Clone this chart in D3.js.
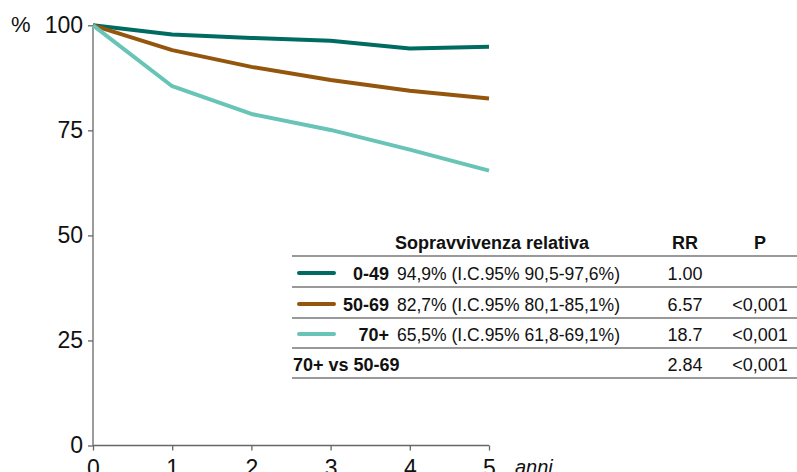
<!DOCTYPE html>
<html><head><meta charset="utf-8">
<script src="https://cdn.jsdelivr.net/npm/d3@7"></script>
<style>
html,body{margin:0;padding:0;background:#fff;}
svg{display:block;}
.ax text{font-family:"Liberation Sans",Arial,sans-serif;}
.tb{font-family:"Liberation Sans Narrow","Arial Narrow","Liberation Sans",sans-serif;}
</style></head>
<body>
<script>
const years = [0, 1, 2, 3, 4, 5];
const seriesNames = ["0-49", "50-69", "70+"];
const s0_49 = [100, 97.8, 97.0, 96.3, 94.5, 94.9];
const s50_69 = [100, 94.1, 90.1, 87.0, 84.4, 82.6];
const s70p = [100, 85.5, 78.9, 75.1, 70.4, 65.4];
const colors = ["#006b61", "#94560c", "#68c4b6"];
const yTicks = [0, 25, 50, 75, 100];
const xTicks = [0, 1, 2, 3, 4, 5];
const survivalText = ["94,9% (I.C.95% 90,5-97,6%)", "82,7% (I.C.95% 80,1-85,1%)", "65,5% (I.C.95% 61,8-69,1%)"];
const rrValues = ["1.00", "6.57", "18.7"];
const pValues = ["", "<0,001", "<0,001"];
const compareLabel = "70+ vs 50-69";
const compareRR = "2.84";
const compareP = "<0,001";

const W = 797, H = 472;
const svg = d3.select("body").append("svg").attr("width", W).attr("height", H);

const x = d3.scaleLinear().domain([0, 5]).range([93, 489]);
const y = d3.scaleLinear().domain([0, 100]).range([445.5, 25.3]);

// axes
const gy = svg.append("g").attr("class", "ax").attr("transform", "translate(93,0)")
  .call(d3.axisLeft(y).tickValues(yTicks).tickFormat(d3.format("d")).tickSize(5).tickPadding(5));
gy.selectAll("text").attr("font-size", 23).attr("fill", "#111");
const gx = svg.append("g").attr("class", "ax").attr("transform", "translate(0,445.5)")
  .call(d3.axisBottom(x).tickValues(xTicks).tickFormat(d3.format("d")).tickSize(5).tickPadding(9.5));
gx.selectAll("text").attr("font-size", 23).attr("fill", "#111");
svg.selectAll(".ax path, .ax line").attr("stroke", "#666").attr("stroke-width", 1.3);
gy.select(".domain").attr("d", `M0,${y(100)}V${y(0)}`);
gx.select(".domain").attr("d", `M${x(0)},0H${x(5)}`);

svg.append("text").attr("x", 11).attr("y", 32).attr("font-family", "Liberation Sans, Arial, sans-serif")
  .attr("font-size", 22).attr("fill", "#111").text("%");
svg.append("text").attr("x", 515).attr("y", 474).attr("font-family", "Liberation Sans, Arial, sans-serif")
  .attr("font-style", "italic").attr("font-size", 20).attr("fill", "#111").text("anni");

// lines
const line = d3.line().x((d, i) => x(years[i])).y(d => y(d));
[s0_49, s50_69, s70p].forEach((s, i) => {
  svg.append("path").attr("d", line(s)).attr("fill", "none")
    .attr("stroke", colors[i]).attr("stroke-width", 4).attr("stroke-linejoin", "round");
});

// table
const tb = svg.append("g").attr("class", "tb").attr("font-size", 18).attr("fill", "#111");
const tL = 292, tR = 797;
const hLines = [256, 287, 318, 348, 378];
tb.append("rect").attr("x", tL).attr("y", 226).attr("width", tR - tL).attr("height", 152).attr("fill", "#fff");
hLines.forEach(v => tb.append("line").attr("x1", tL).attr("x2", tR).attr("y1", v).attr("y2", v)
  .attr("stroke", "#777").attr("stroke-width", 1.5));
tb.append("text").attr("x", 492).attr("y", 249).attr("text-anchor", "middle").attr("font-weight", "bold").text("Sopravvivenza relativa");
tb.append("text").attr("x", 685).attr("y", 249).attr("text-anchor", "middle").attr("font-weight", "bold").text("RR");
tb.append("text").attr("x", 760).attr("y", 249).attr("text-anchor", "middle").attr("font-weight", "bold").text("P");
const rowY = [280, 311, 341];
seriesNames.forEach((n, i) => {
  const cy = rowY[i] - 7;
  tb.append("line").attr("x1", 299).attr("x2", 334).attr("y1", cy).attr("y2", cy)
    .attr("stroke", colors[i]).attr("stroke-width", 4).attr("stroke-linecap", "round");
  tb.append("text").attr("x", 389).attr("y", rowY[i]).attr("text-anchor", "end").attr("font-weight", "bold").text(n);
  tb.append("text").attr("x", 397).attr("y", rowY[i]).attr("textLength", 223).attr("lengthAdjust", "spacingAndGlyphs").text(survivalText[i]);
  tb.append("text").attr("x", 685).attr("y", rowY[i]).attr("text-anchor", "middle").text(rrValues[i]);
  tb.append("text").attr("x", 760).attr("y", rowY[i]).attr("text-anchor", "middle").text(pValues[i]);
});
tb.append("text").attr("x", 293).attr("y", 371).attr("font-weight", "bold").text(compareLabel);
tb.append("text").attr("x", 685).attr("y", 371).attr("text-anchor", "middle").text(compareRR);
tb.append("text").attr("x", 760).attr("y", 371).attr("text-anchor", "middle").text(compareP);
</script>
</body></html>
